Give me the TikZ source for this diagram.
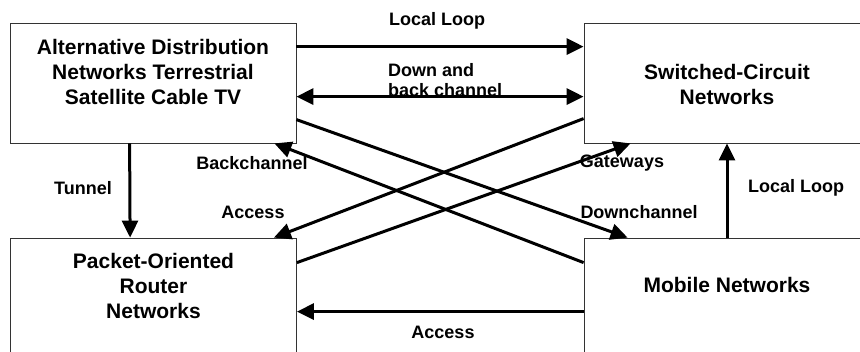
\documentclass[tikz,border=0pt]{standalone}
\usepackage{fontspec}
\setmainfont{Liberation Sans}
\usetikzlibrary{arrows.meta,calc}
\begin{document}
\begin{tikzpicture}[x=1pt,y=-1pt,
  box/.style={draw=black!80, line width=0.8pt, minimum width=286pt,
    minimum height=120pt, inner sep=0pt},
  boxtext/.style={font=\fontsize{21}{25}\selectfont\bfseries, align=center, inner sep=0pt},
  tip/.style={},
  flow/.style={line width=3pt, -{Triangle[length=17pt,width=16pt]}},
  bothway/.style={line width=3pt, {Triangle[length=17pt,width=16pt]}-{Triangle[length=17pt,width=16pt]}},
  lbl/.style={font=\fontsize{18}{20}\selectfont\bfseries, inner sep=0pt}]
\useasboundingbox (0,0) rectangle (860,352);
\clip (0,0) rectangle (860,352);

% the four network families
\node[box] (alt) at (153,83) {};
\node[box] (scn) at (727,83) {};
\node[box] (pkt) at (153.5,298) {};
\node[box] (mob) at (727,298) {};

\node[boxtext] (altT) at (153,72) {Alternative Distribution\\Networks Terrestrial\\Satellite Cable TV};
\node[boxtext] (scnT) at (727,84) {Switched-Circuit\\Networks};
\node[boxtext] (pktT) at (153.5,286) {Packet-Oriented\\Router\\Networks};
\node[boxtext] (mobT) at (727,285) {Mobile Networks};

% connections
\draw[flow] ($(alt.north east)+(0,24)$) -- ($(scn.north west)+(0,24)$);
\draw[bothway] ($(alt.north east)+(0,74)$) -- ($(scn.north west)+(0,74)$);
\draw[flow] ($(alt.north east)+(0,97)$) -- ($(mob.north west)+(44,0)$);
\draw[flow] ($(mob.north west)+(0,25)$) -- ($(alt.south east)+(-22,0)$);
\draw[flow] ($(scn.north west)+(0,96)$) -- ($(pkt.north east)+(-23,0)$);
\draw[flow] ($(pkt.north east)+(0,25)$) -- ($(scn.south west)+(47,0)$);
\draw[flow] ($(alt.south west)+(120,0)$) -- ($(pkt.north west)+(120,0)$);
\draw[flow] (mob.north) -- (scn.south);
\draw[flow] ($(mob.north west)+(0,74)$) -- ($(pkt.north east)+(0,74)$);

% connection labels
\node[lbl] (lLoop1) at (437,21) {Local Loop};
\node[lbl, align=left, anchor=west] (lDown) at (388,80) {Down and\\back channel};
\node[lbl] (lBack) at (252,163) {Backchannel};
\node[lbl] (lGate) at (622,163) {Gateways};
\node[lbl] (lTun) at (83,188) {Tunnel};
\node[lbl] (lAcc1) at (253,212) {Access};
\node[lbl] (lDownCh) at (639,212) {Downchannel};
\node[lbl] (lLoop2) at (796,188) {Local Loop};
\node[lbl] (lAcc2) at (443,332) {Access};
\end{tikzpicture}
\end{document}
